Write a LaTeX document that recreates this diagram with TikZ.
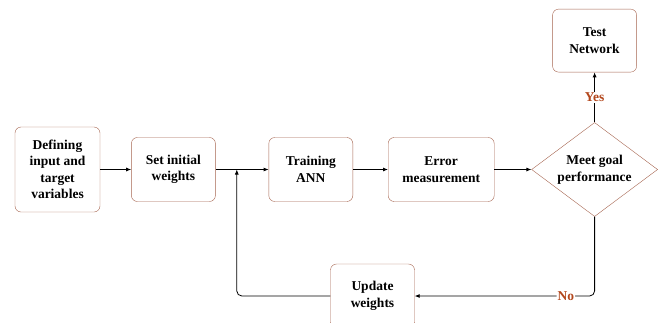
\documentclass[tikz,border=0pt]{standalone}
\usepackage{fontspec}
\setmainfont{Liberation Serif}
\usepackage{xcolor}
\usepackage{tikz}
\usetikzlibrary{arrows.meta,positioning,shapes.geometric,calc}

\definecolor{boxline}{HTML}{A5644F}
\definecolor{answer}{HTML}{B3471C}

\begin{document}
\begin{tikzpicture}[
font=\fontsize{13.5}{16.5}\selectfont\bfseries,
procbox/.style={draw=boxline, rounded corners=6pt, align=center, minimum width=84pt, minimum height=64pt, inner sep=2pt},
decision/.style={draw=boxline, diamond, aspect=1.34, align=center, minimum width=126pt, minimum height=94pt, inner sep=0pt},
answer/.style={text=answer, fill=white, inner sep=1pt},
arrow/.style={-{Latex[length=5pt,width=4pt]}, line width=0.8pt}
]
\clip (0,0) rectangle (662pt,-322pt);
\node[procbox, minimum width=85pt, minimum height=85pt] (define) at (57.5pt,-169.5pt) {Defining\\input and\\target\\variables};
\node[procbox, right=31pt of define] (setw) {Set initial\\weights};
\node[procbox, right=53pt of setw] (train) {Training\\ANN};
\node[procbox, minimum width=106pt, right=35pt of train] (error) {Error\\measurement};
\node[decision, right=37pt of error] (goal) {Meet goal\\performance};
\node[procbox, minimum height=63pt, above=50pt of goal] (test) {Test\\Network};
\node[procbox] (update) at (372.5pt,-296pt) {Update\\weights};
\coordinate (join) at ($(setw.east)!0.4!(train.west)$);
\draw[arrow] (define) -- (setw);
\draw[arrow] (setw) -- (train);
\draw[arrow] (train) -- (error);
\draw[arrow] (error) -- (goal);
\draw[arrow] (goal) -- node[answer] {Yes} (test);
\draw[arrow, rounded corners=5pt] (goal.south) |- node[answer, pos=0.58] {No} (update.east);
\draw[arrow, rounded corners=5pt] (update.west) -| (join);
\end{tikzpicture}
\end{document}
